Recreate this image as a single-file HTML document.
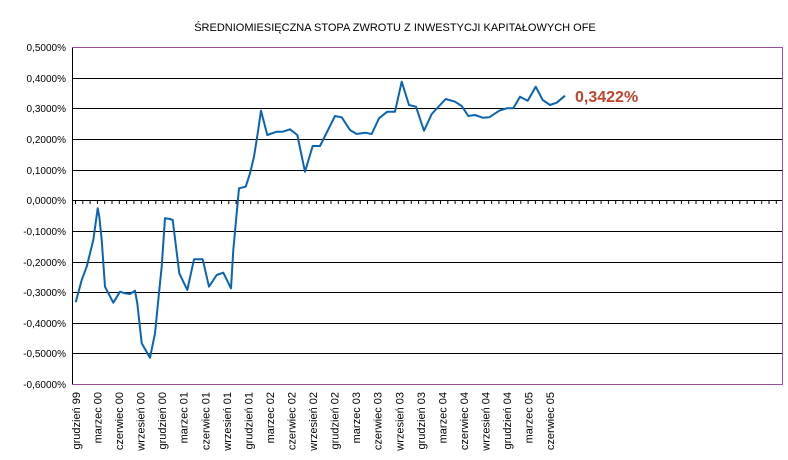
<!DOCTYPE html>
<html><head><meta charset="utf-8"><style>
body{margin:0;background:#fff;}
svg{display:block;font-family:"Liberation Sans",sans-serif;}
</style></head><body>
<svg width="788" height="460" viewBox="0 0 788 460" xmlns="http://www.w3.org/2000/svg">
<defs>
<pattern id="tk" x="75" y="200" width="7.3" height="5" patternUnits="userSpaceOnUse">
<rect x="0" y="0" width="1" height="5" fill="#000"/>
</pattern>
</defs>
<rect width="788" height="460" fill="#fff"/>
<text x="395" y="31" text-anchor="middle" font-size="11" fill="#000">ŚREDNIOMIESIĘCZNA STOPA ZWROTU Z INWESTYCJI KAPITAŁOWYCH OFE</text>
<g stroke="#000" stroke-width="1">
<line x1="72" y1="78.5" x2="783" y2="78.5"/>
<line x1="72" y1="108.5" x2="783" y2="108.5"/>
<line x1="72" y1="139.5" x2="783" y2="139.5"/>
<line x1="72" y1="170.5" x2="783" y2="170.5"/>
<line x1="72" y1="200.5" x2="783" y2="200.5"/>
<line x1="72" y1="231.5" x2="783" y2="231.5"/>
<line x1="72" y1="262.5" x2="783" y2="262.5"/>
<line x1="72" y1="292.5" x2="783" y2="292.5"/>
<line x1="72" y1="323.5" x2="783" y2="323.5"/>
<line x1="72" y1="353.5" x2="783" y2="353.5"/>
<line x1="72.5" y1="47" x2="72.5" y2="384"/>
</g>
<rect x="74" y="201" width="708" height="3" fill="url(#tk)"/>
<path d="M72 47.5H782.5V384.5H72" fill="none" stroke="#9b4f9e" stroke-width="1"/>
<g font-size="10" fill="#000" text-anchor="end">
<text x="66" y="51">0,5000%</text>
<text x="66" y="82">0,4000%</text>
<text x="66" y="112">0,3000%</text>
<text x="66" y="143">0,2000%</text>
<text x="66" y="174">0,1000%</text>
<text x="66" y="204">0,0000%</text>
<text x="66" y="235">-0,1000%</text>
<text x="66" y="266">-0,2000%</text>
<text x="66" y="296">-0,3000%</text>
<text x="66" y="327">-0,4000%</text>
<text x="66" y="357">-0,5000%</text>
<text x="66" y="388">-0,6000%</text>
</g>
<polyline fill="none" stroke="#0a64b4" stroke-width="2" stroke-linejoin="round" points="75.7,302.3 81.7,280 86.7,266.7 93.3,240 97.7,208.3 99.3,216.7 101.7,240 105,286.7 113.3,302.7 120,291.7 125,293.3 130,294 135,290.7 137.3,303.3 141.7,343.3 150,357.7 155,333.3 159.3,290 161.7,266.7 165,218.3 170,219 172.7,220 179.3,273.3 187.3,290 194,259.3 202.7,259.3 209,286.7 216.7,275 223.3,272.7 231,288.3 233.3,250 239,188.3 245.7,186.7 250,173.3 254,156.7 257.7,133.3 261,110.7 267.3,135 276.7,131.7 282.7,131.7 290,129.3 297.3,135 305,171.7 312.7,146 320,146 335,116 341.7,117.3 350,130 356.7,134 365,132.7 371.7,134 379,118.3 387.3,111.7 395,111.7 401.7,81.7 409,105 416,106.7 424,130.7 431.7,114 445.7,99 455,101.7 461.7,106 468.3,116 475,115 482.7,117.7 489.3,117.3 499.3,110.7 506.7,108.3 513.3,108.3 520,96.7 527.7,100.7 535.7,86.7 542.7,100 550,105 556.7,102.7 565,95.7"/>
<text x="575" y="102" font-size="16" font-weight="bold" fill="#c0432c">0,3422%</text>
<g font-size="11" fill="#000" text-anchor="end">
<text transform="translate(80,392) rotate(-90)">grudzień 99</text>
<text transform="translate(101.5,392) rotate(-90)">marzec 00</text>
<text transform="translate(123,392) rotate(-90)">czerwiec 00</text>
<text transform="translate(144.6,392) rotate(-90)">wrzesień 00</text>
<text transform="translate(166.2,392) rotate(-90)">grudzień 00</text>
<text transform="translate(187.7,392) rotate(-90)">marzec 01</text>
<text transform="translate(209.3,392) rotate(-90)">czerwiec 01</text>
<text transform="translate(230.8,392) rotate(-90)">wrzesień 01</text>
<text transform="translate(252.4,392) rotate(-90)">grudzień 01</text>
<text transform="translate(274,392) rotate(-90)">marzec 02</text>
<text transform="translate(295.5,392) rotate(-90)">czerwiec 02</text>
<text transform="translate(317,392) rotate(-90)">wrzesień 02</text>
<text transform="translate(338.6,392) rotate(-90)">grudzień 02</text>
<text transform="translate(360.2,392) rotate(-90)">marzec 03</text>
<text transform="translate(381.7,392) rotate(-90)">czerwiec 03</text>
<text transform="translate(403.3,392) rotate(-90)">wrzesień 03</text>
<text transform="translate(424.8,392) rotate(-90)">grudzień 03</text>
<text transform="translate(446.4,392) rotate(-90)">marzec 04</text>
<text transform="translate(468,392) rotate(-90)">czerwiec 04</text>
<text transform="translate(489.5,392) rotate(-90)">wrzesień 04</text>
<text transform="translate(511,392) rotate(-90)">grudzień 04</text>
<text transform="translate(532.6,392) rotate(-90)">marzec 05</text>
<text transform="translate(554.2,392) rotate(-90)">czerwiec 05</text>
</g>
</svg>
</body></html>
